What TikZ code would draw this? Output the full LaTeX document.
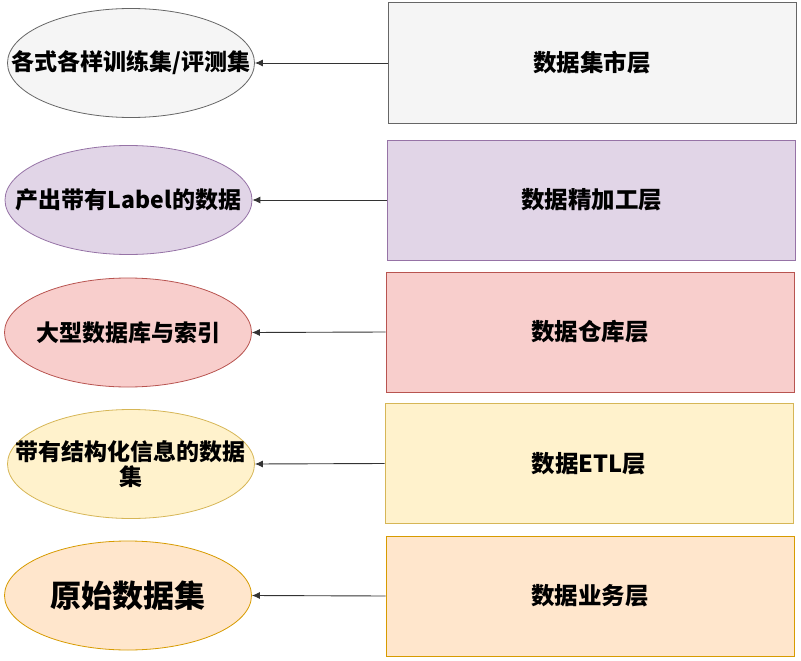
\documentclass[tikz,border=0pt]{standalone}
\usepackage{fontspec}
\setmainfont{Noto Sans CJK SC}
\usetikzlibrary{shapes.geometric,arrows.meta}
\definecolor{g1f}{HTML}{F5F5F5}\definecolor{g1d}{HTML}{666666}
\definecolor{p1f}{HTML}{E1D5E7}\definecolor{p1d}{HTML}{9673A6}
\definecolor{r1f}{HTML}{F8CECC}\definecolor{r1d}{HTML}{B85450}
\definecolor{y1f}{HTML}{FFF2CC}\definecolor{y1d}{HTML}{D6B656}
\definecolor{o1f}{HTML}{FFE6CC}\definecolor{o1d}{HTML}{D79B00}
\tikzset{
  layerbox/.style={rectangle, draw=#1d, fill=#1f, line width=1pt, minimum width=408pt, minimum height=120pt, inner sep=0pt, font=\fontsize{23.5}{27}\selectfont\bfseries},
  blob/.style={ellipse, draw=#1d, fill=#1f, line width=0.8pt, minimum width=247pt, minimum height=109pt, inner sep=0pt},
  blobtext/.style={align=center, inner sep=0pt, font=\fontsize{23}{25}\selectfont\bfseries},
  conn/.style={draw=black!80, line width=0.9pt, -{Latex[length=8pt,width=7pt]}}
}
\begin{document}
\begin{tikzpicture}[x=1pt,y=-1pt]
\useasboundingbox (0,0) rectangle (801,661);
\node[layerbox=g1] (b1) at (592,63) {数据集市层};
\node[layerbox=p1] (b2) at (591.5,200) {数据精加工层};
\node[layerbox=r1] (b3) at (590,332) {数据仓库层};
\node[layerbox=y1] (b4) at (589,463.5) {数据ETL层};
\node[layerbox=o1] (b5) at (590,596) {数据业务层};
\node[blob=g1] (e1) at (131,63) {};
\node[blob=p1] (e2) at (128.5,200) {};
\node[blob=r1] (e3) at (128,332.5) {};
\node[blob=y1] (e4) at (131,464) {};
\node[blob=o1] (e5) at (128,595.5) {};
\node[blobtext] (t1) at (e1.center) {各式各样训练集/评测集};
\node[blobtext] (t2) at (e2.center) {产出带有Label的数据};
\node[blobtext] (t3) at (e3.center) {大型数据库与索引};
\node[blobtext] (t4) at (e4.center) {带有结构化信息的数据\\集};
\node[blobtext, font=\fontsize{31}{34}\selectfont\bfseries] (t5) at (e5.center) {原始数据集};
\draw[conn] (b1.west) -- (e1.east);
\draw[conn] (b2.west) -- (e2.east);
\draw[conn] (b3.west) -- (e3.east);
\draw[conn] (b4.west) -- (e4.east);
\draw[conn] (b5.west) -- (e5.east);
\end{tikzpicture}
\end{document}
